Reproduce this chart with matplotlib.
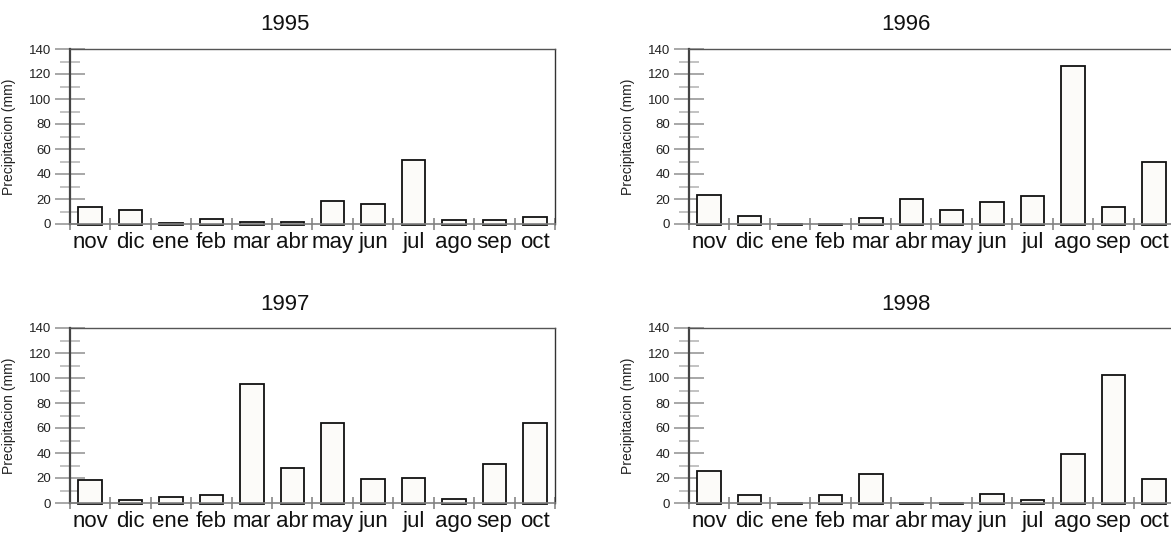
import matplotlib
matplotlib.use("Agg")
import matplotlib.pyplot as plt
import numpy as np

months = ["nov", "dic", "ene", "feb", "mar", "abr", "may", "jun", "jul", "ago", "sep", "oct"]
years = ["1995", "1996", "1997", "1998"]
p1995 = [14, 11, 1, 4, 2, 2, 18.5, 16, 51.5, 3, 3, 5.3]
p1996 = [23, 6.1, 0.3, 0.3, 4.5, 20, 11.2, 17.6, 22.4, 126.4, 13.6, 50]
p1997 = [18.1, 2.1, 4.5, 6.6, 95.4, 28.4, 64.3, 18.9, 19.7, 2.9, 30.9, 63.8]
p1998 = [25.3, 6.1, 0.3, 6.6, 22.9, 0.3, 0.3, 6.9, 2.1, 39.1, 102.4, 19.1]
series = [p1995, p1996, p1997, p1998]
yticks = [0, 20, 40, 60, 80, 100, 120, 140]
ylabel = "Precipitacion (mm)"

W, H = 1171, 536
fig = plt.figure(figsize=(W / 100, H / 100), dpi=100)

tick_font = ["Liberation Sans Narrow", "Liberation Sans", "DejaVu Sans"]
main_font = ["Liberation Sans", "DejaVu Sans"]

# pixel layout: (left, top) of each axes, width/height in pixels
lefts = [70, 689, 70, 689]
tops = [49, 49, 328, 328]
aw, ah = 485, 175
title_x = [285, 906, 285, 906]
base = -1.1

for i, (vals, yr) in enumerate(zip(series, years)):
    l, t = lefts[i], tops[i]
    ax = fig.add_axes([l / W, 1 - (t + ah) / H, aw / W, ah / H])
    x = np.arange(len(months))
    heights = np.array(vals) - base
    ax.bar(x, heights, bottom=base, width=0.58, facecolor="#fcfbf9",
           edgecolor="#111111", linewidth=1.3, zorder=3, clip_on=False)
    ax.set_xlim(-0.5, len(months) - 0.5)
    ax.set_ylim(0, 140)

    # spines
    ax.spines["left"].set_color("#444444")
    ax.spines["left"].set_linewidth(1.6)
    ax.spines["top"].set_color("#555555")
    ax.spines["top"].set_linewidth(1.0)
    ax.spines["right"].set_color("#333333")
    ax.spines["right"].set_linewidth(1.0)
    ax.spines["bottom"].set_color("#808080")
    ax.spines["bottom"].set_linewidth(1.2)
    ax.spines["bottom"].set_zorder(4)

    # y ticks
    ax.set_yticks(yticks)
    ax.set_yticklabels([str(v) for v in yticks], fontfamily=main_font, fontsize=9.5, color="#222222")
    ax.set_yticks(np.arange(10, 140, 20), minor=True)
    ax.tick_params(axis="y", which="major", direction="inout", length=21, width=1.3,
                   color="#a0a0a0", pad=3)
    ax.tick_params(axis="y", which="minor", direction="inout", length=14.5, width=1.3,
                   color="#bdbdbd")

    # x ticks at category boundaries, labels at centers
    ax.set_xticks(np.arange(-0.5, len(months), 1.0))
    ax.set_xticklabels([])
    ax.set_xticks(x, minor=True)
    ax.set_xticklabels(months, minor=True, fontfamily=tick_font, fontsize=16, color="#111111")
    ax.tick_params(axis="x", which="major", direction="inout", length=8.5, width=1.3,
                   color="#909090")
    ax.tick_params(axis="x", which="minor", length=0, pad=6)

    ax.set_ylabel(ylabel, fontfamily=main_font, fontsize=10, color="#222222", labelpad=4)
    ax.yaxis.set_label_coords(-(l - (l - 54)) / aw, 0.5)

    fig.text(title_x[i] / W, 1 - (t - 24) / H, yr, ha="center", va="center",
             fontfamily=main_font, fontsize=16, color="#111111")

fig.savefig("out.png", dpi=100, facecolor="white")
